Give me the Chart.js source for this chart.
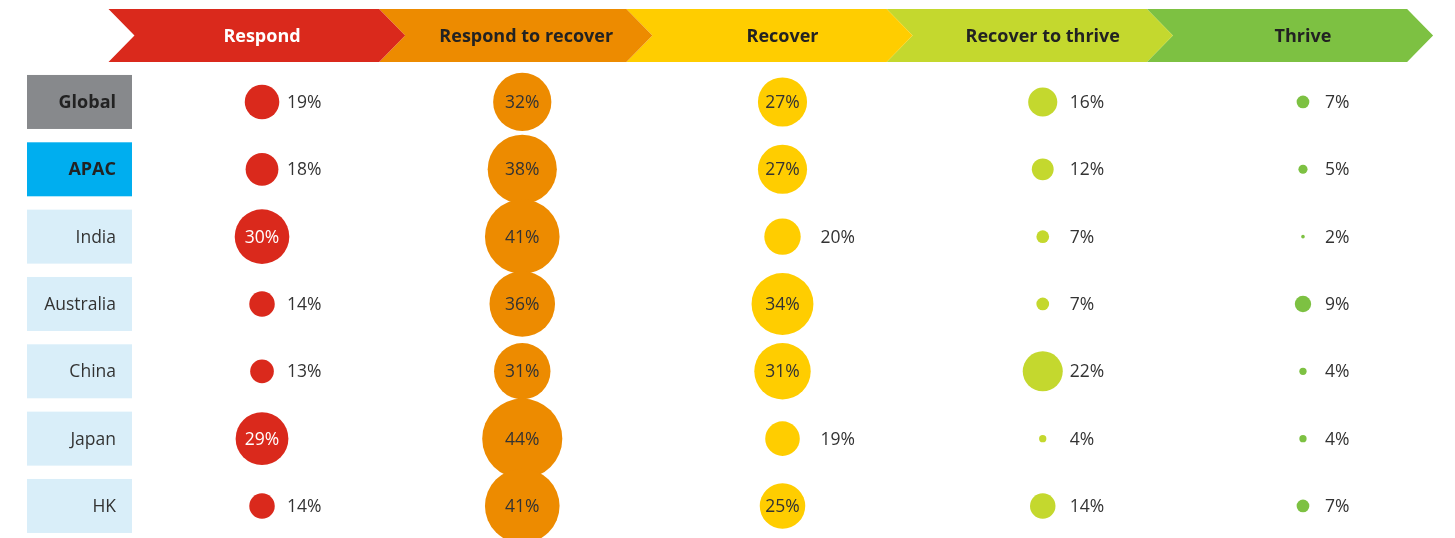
<!DOCTYPE html>
<html>
<head>
<meta charset="utf-8">
<script src="https://cdn.jsdelivr.net/npm/chart.js@4"></script>
<style>
  body { margin: 0; background: #fff; }
  canvas { display: block; }
</style>
</head>
<body>
<canvas id="myChart" width="1455" height="538"></canvas>
<script>
const stages = ["Respond", "Respond to recover", "Recover", "Recover to thrive", "Thrive"];
const regions = ["Global", "APAC", "India", "Australia", "China", "Japan", "HK"];

// values per stage, one entry per region (same order as regions)
const respond = [19, 18, 30, 14, 13, 29, 14];
const respondToRecover = [32, 38, 41, 36, 31, 44, 41];
const recover = [27, 27, 20, 34, 31, 19, 25];
const recoverToThrive = [16, 12, 7, 7, 22, 4, 14];
const thrive = [7, 5, 2, 9, 4, 4, 7];

const stageValues = [respond, respondToRecover, recover, recoverToThrive, thrive];
const stageColors = ["#da291c", "#ed8b00", "#ffcd00", "#c4d82e", "#7dc142"];
const headerText = ["#ffffff", "#222222", "#222222", "#222222", "#222222"];
const labelOffset = [25, 30, 38, 27, 22];

const pxPerPoint = 0.91;
const insideMin = 25;

const datasets = stageValues.map((vals, i) => ({
  label: stages[i],
  data: vals.map((v, j) => ({ x: i, y: j, r: v * pxPerPoint, v: v })),
  backgroundColor: stageColors[i],
  borderWidth: 0,
  hoverBorderWidth: 0,
  clip: false
}));

const headerPlugin = {
  id: "header",
  beforeDatasetsDraw(chart) {
    const ctx = chart.ctx;
    const xs = chart.scales.x;
    const ys = chart.scales.y;
    const top = 9, bottom = 62, mid = (top + bottom) / 2, depth = 26;

    // chevrons, drawn right to left so each tip overlays the next one
    for (let i = stages.length - 1; i >= 0; i--) {
      const left = i === 0 ? xs.getPixelForValue(-0.59) : xs.getPixelForValue(i - 0.5) - depth + (i === 1 ? 13 : 0);
      const tip = xs.getPixelForValue(i === 0 ? 0.55 : i + 0.5);
      ctx.beginPath();
      ctx.moveTo(left, top);
      ctx.lineTo(tip - depth, top);
      ctx.lineTo(tip, mid);
      ctx.lineTo(tip - depth, bottom);
      ctx.lineTo(left, bottom);
      ctx.lineTo(left + depth, mid);
      ctx.closePath();
      ctx.fillStyle = stageColors[i];
      ctx.fill();
    }
    ctx.font = "bold 18px 'Open Sans'";
    ctx.textAlign = "center";
    ctx.textBaseline = "middle";
    stages.forEach((s, i) => {
      ctx.fillStyle = headerText[i];
      const cx = xs.getPixelForValue(i) + (i === 1 ? 4 : 0);
      ctx.fillText(s, cx, mid + 1);
    });

    // row label boxes
    regions.forEach((r, j) => {
      const cy = ys.getPixelForValue(j);
      let fill = "#d9eef9", font = "17.5px 'Open Sans'", color = "#333333";
      if (j === 0) { fill = "#87898c"; font = "bold 18px 'Open Sans'"; color = "#222222"; }
      if (j === 1) { fill = "#00aeef"; font = "bold 18px 'Open Sans'"; color = "#222222"; }
      ctx.fillStyle = fill;
      ctx.fillRect(27, cy - 27, 105, 54);
      ctx.fillStyle = color;
      ctx.font = font;
      ctx.textAlign = "right";
      ctx.fillText(r, 116, cy + 1);
    });
  },
  afterDatasetsDraw(chart) {
    const ctx = chart.ctx;
    ctx.textBaseline = "middle";
    ctx.font = "17.5px 'Open Sans'";
    chart.data.datasets.forEach((ds, i) => {
      const meta = chart.getDatasetMeta(i);
      meta.data.forEach((pt, j) => {
        const v = ds.data[j].v;
        const text = v + "%";
        if (v >= insideMin) {
          ctx.textAlign = "center";
          ctx.fillStyle = i === 0 ? "#ffffff" : "#333333";
          ctx.fillText(text, pt.x, pt.y + 1);
        } else {
          ctx.textAlign = "left";
          ctx.fillStyle = "#333333";
          ctx.fillText(text, pt.x + labelOffset[i], pt.y + 1);
        }
      });
    });
  }
};

const myChart = new Chart(document.getElementById("myChart"), {
  type: "bubble",
  data: { datasets },
  options: {
    responsive: false,
    animation: false,
    events: [],
    layout: { autoPadding: false, padding: { left: 131.9, right: 21.9, top: 68.3, bottom: 8 } },
    scales: {
      x: { type: "linear", min: -0.5, max: 4.5, display: false },
      y: { type: "linear", min: -0.5, max: 6.357, reverse: true, display: false }
    },
    plugins: { legend: { display: false }, tooltip: { enabled: false } }
  },
  plugins: [headerPlugin]
});
</script>
</body>
</html>
